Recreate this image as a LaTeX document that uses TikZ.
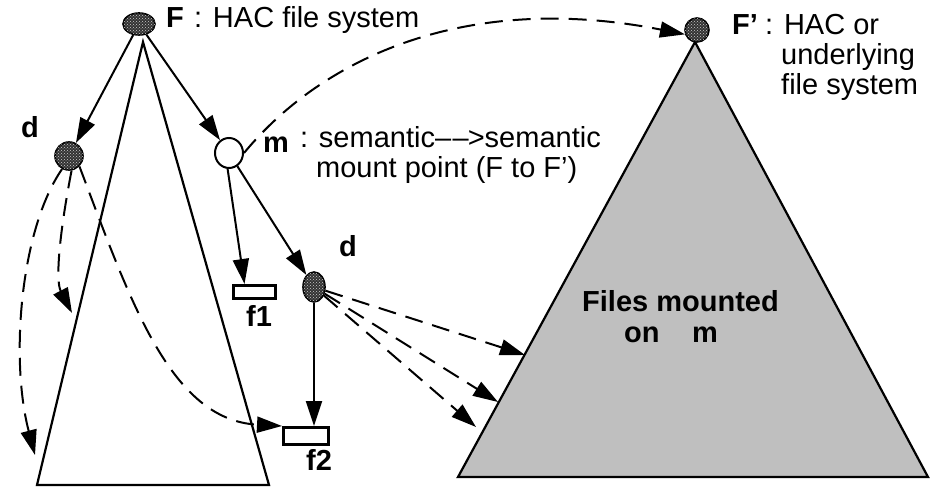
\documentclass[tikz,border=0pt]{standalone}
\usepackage{fontspec}
\setmainfont{Liberation Sans}
\usetikzlibrary{arrows.meta,shapes.geometric,patterns}
\definecolor{mgray}{RGB}{191,191,191}
\begin{document}
\begin{tikzpicture}[x=1pt,y=-1pt,
  arr/.style={line width=2pt,-{Triangle[length=25pt,width=16pt]}},
  darr/.style={arr,dash pattern=on 18pt off 10pt},
  dnode/.style={ellipse,draw,line width=1.6pt,inner sep=0pt,fill=black!80,
    postaction={pattern=crosshatch dots,pattern color=white!80!black}},
  wnode/.style={ellipse,draw,line width=2pt,fill=white,inner sep=0pt},
  fbox/.style={draw,line width=3pt,fill=white,inner sep=0pt},
  lbl/.style={font=\fontsize{29}{30}\selectfont,inner sep=0pt,anchor=base west},
  blbl/.style={lbl,font=\fontsize{29}{30}\selectfont\bfseries},
  tri/.style={line width=2.2pt,line join=miter}
]
\useasboundingbox (0,0) rectangle (932,497);

% triangles
\draw[tri,fill=white] (143,42) -- (37,485) -- (269,485) -- cycle;
\draw[tri,fill=mgray] (695,42) -- (458,477) -- (928,477) -- cycle;

% nodes
\node[dnode,minimum width=32pt,minimum height=22pt] (F) at (139,24) {};
\node[dnode,minimum width=28pt,minimum height=28pt] (dl) at (69,156) {};
\node[wnode,minimum width=28pt,minimum height=30pt] (m) at (229,153) {};
\node[dnode,minimum width=22pt,minimum height=30pt] (dr) at (314,287) {};
\node[dnode,minimum width=24pt,minimum height=24pt] (Fp) at (697,30) {};
\node[fbox,minimum width=42pt,minimum height=13pt] (f1) at (254.5,292) {};
\node[fbox,minimum width=45pt,minimum height=17pt] (f2) at (306,436) {};

% target points on the grey triangle
\coordinate (t1) at (525,355);
\coordinate (t2) at (498,402);
\coordinate (t3) at (476,427);
\coordinate (l1) at (35,455);
\coordinate (l2) at (72,313);

% labels
\node[blbl] (lF) at (166,28) {F};
\node[lbl] (tF) at (194,28) {: HAC file system};
\node[blbl] (ldl) at (21,138) {d};
\node[blbl] (lm) at (263,153) {m};
\node[lbl] (tm1) at (300,148) {: semantic\textendash\kern1.5pt\textendash\kern-1pt>semantic};
\node[lbl] (tm2) at (316,178) {mount point (F to F’)};
\node[blbl] (ldr) at (339,257) {d};
\node[blbl] (lf1) at (246,326) {f1};
\node[blbl] (lf2) at (306,470) {f2};
\node[blbl] (lFp) at (732,35) {F’};
\node[lbl] (tFp1) at (765,35) {: HAC or};
\node[lbl] (tFp2) at (781,65) {underlying};
\node[lbl] (tFp3) at (781,95) {file system};
\node[blbl] (tfm1) at (582,312) {Files mounted};
\node[blbl] (tfm2) at (624,342) {on};
\node[blbl] (tfm3) at (692,342) {m};

% solid arrows
\draw[arr] (F) -- (dl);
\draw[arr] (F) -- (m);
\draw[arr] (m.265) -- ([xshift=-10pt]f1.north);
\draw[arr] (m) -- (dr);
\draw[arr] (dr.south) -- (dr.south |- f2.north);

% dashed arrows
\draw[darr] (m.east) .. controls (325,55) and (470,-8) .. (Fp.200);
\draw[darr] (dl.242) .. controls (20,230) and (10,360) .. (l1);
\draw[darr] (dl.280) .. controls (60,230) and (55,280) .. (l2);
\draw[darr] (dl.315) .. controls (130,300) and (170,420) .. (f2.north west);
\draw[darr] (dr) -- (t1);
\draw[darr] (dr) -- (t2);
\draw[darr] (dr) -- (t3);
\end{tikzpicture}
\end{document}
